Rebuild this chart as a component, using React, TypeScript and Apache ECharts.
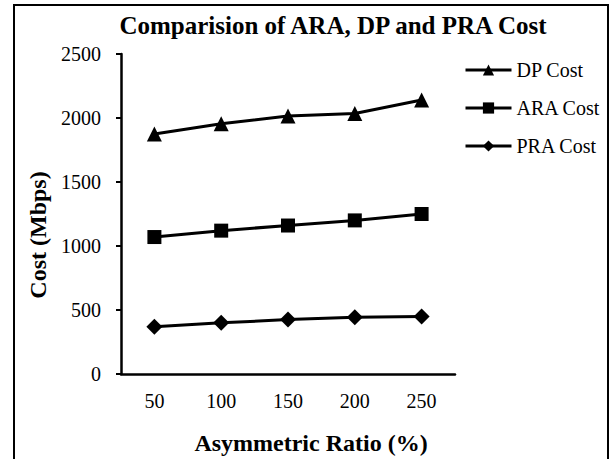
import React, { useEffect, useRef } from "react";
import * as echarts from "echarts";

const categories = ["50", "100", "150", "200", "250"];
const dpCost = [1875, 1955, 2015, 2035, 2140];
const araCost = [1070, 1120, 1160, 1200, 1250];
const praCost = [370, 400, 425, 443, 450];

const FONT = "Liberation Serif";

export default function App() {
  const ref = useRef<HTMLDivElement>(null);
  useEffect(() => {
    if (!ref.current) return;
    const chart = echarts.init(ref.current, undefined, { renderer: "svg" });
    const mkSeries = (name: string, data: number[], symbol: string, size: number) => ({
      name,
      type: "line",
      data,
      symbol,
      symbolSize: size,
      itemStyle: { color: "#000" },
      lineStyle: { color: "#000", width: 3 },
    });
    chart.setOption({
      animation: false,
      textStyle: { fontFamily: FONT, color: "#000" },
      graphic: [
        {
          type: "rect",
          shape: { x: 14, y: 5, width: 594, height: 470 },
          style: { fill: "none", stroke: "#000", lineWidth: 2 },
        },
        {
          type: "text",
          x: 333,
          y: 25,
          style: {
            text: "Comparision of ARA, DP and PRA Cost",
            font: `bold 25px "${FONT}"`,
            fill: "#000",
            textAlign: "center",
            textVerticalAlign: "middle",
          },
        },
        {
          type: "text",
          x: 38,
          y: 235,
          rotation: Math.PI / 2,
          style: {
            text: "Cost (Mbps)",
            font: `bold 24px "${FONT}"`,
            fill: "#000",
            textAlign: "center",
            textVerticalAlign: "middle",
          },
        },
        {
          type: "text",
          x: 311,
          y: 443,
          style: {
            text: "Asymmetric Ratio (%)",
            font: `bold 24px "${FONT}"`,
            fill: "#000",
            textAlign: "center",
            textVerticalAlign: "middle",
          },
        },
      ],
      legend: {
        orient: "vertical",
        left: 464,
        top: 60,
        padding: 0,
        itemWidth: 46,
        itemHeight: 14,
        itemGap: 18,
        lineStyle: { width: 3, color: "#000" },
        textStyle: { fontFamily: FONT, fontSize: 20, color: "#000", lineHeight: 20 },
        data: ["DP Cost", "ARA Cost", "PRA Cost"],
      },
      grid: { left: 121, top: 54, width: 334, height: 320 },
      xAxis: {
        type: "category",
        data: categories,
        boundaryGap: true,
        axisLine: { lineStyle: { color: "#000", width: 2.5 } },
        axisTick: { show: false },
        axisLabel: { fontFamily: FONT, fontSize: 20, color: "#000", margin: 17 },
      },
      yAxis: {
        type: "value",
        min: 0,
        max: 2500,
        interval: 500,
        axisLine: { show: true, lineStyle: { color: "#000", width: 2.5 } },
        axisTick: { show: true, length: 5, lineStyle: { color: "#000", width: 2 } },
        splitLine: { show: false },
        axisLabel: {
          fontFamily: FONT,
          fontSize: 20,
          color: "#000",
          margin: 20,
          formatter: (v: number) => String(v),
        },
      },
      series: [
        mkSeries("DP Cost", dpCost, "triangle", 15),
        mkSeries("ARA Cost", araCost, "rect", 14),
        mkSeries("PRA Cost", praCost, "diamond", 16),
      ],
    });
    return () => chart.dispose();
  }, []);
  return (
    <div
      ref={ref}
      style={{ position: "fixed", left: 0, top: 0, width: 613, height: 459, background: "#fff" }}
    />
  );
}
